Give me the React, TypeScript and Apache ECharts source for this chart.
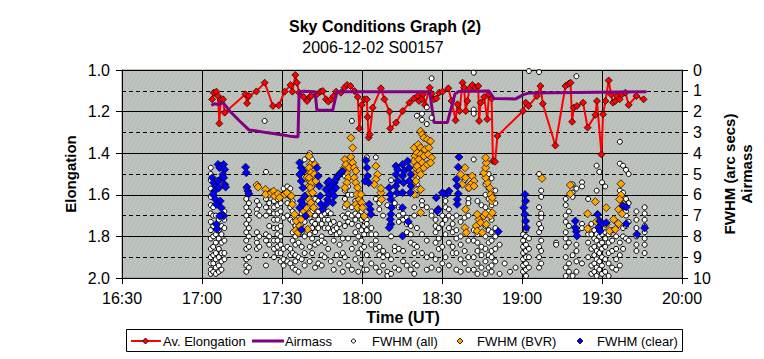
import { useEffect, useRef } from 'react';
import * as echarts from 'echarts';

const FONT = 'Arial, "Liberation Sans", Helvetica, sans-serif';

const chartTitle = 'Sky Conditions Graph (2)';
const chartSubtitle = '2006-12-02 S00157';
const xAxisTitle = 'Time (UT)';
const leftAxisTitle = 'Elongation';
const rightAxisTitle = 'FWHM (arc secs)\nAirmass';
const seriesNames = ['Av. Elongation', 'Airmass', 'FWHM (all)', 'FWHM (BVR)', 'FWHM (clear)'];

// Time axis: minutes after 00:00 UT (16:30 .. 20:00)
const timeRange = [990, 1200];
const timeStep = 30;
const elongRange = [1.0, 2.0];
const fwhmRange = [0, 10];

// [minute, average elongation]
const avElongation: [number, number][] = [
  [1023.8, 1.141], [1024.4, 1.109], [1025.4, 1.104], [1026.0, 1.125], [1026.5, 1.257], [1027.0, 1.144],
  [1027.9, 1.141], [1028.5, 1.205], [1036.3, 1.117], [1036.9, 1.16], [1037.6, 1.125], [1040.4, 1.103],
  [1043.5, 1.061], [1046.6, 1.173], [1048.8, 1.17], [1051.0, 1.104], [1053.2, 1.072], [1053.9, 1.104],
  [1055.0, 1.024], [1055.6, 1.061], [1056.4, 1.109], [1058.1, 1.13], [1059.4, 1.149], [1060.4, 1.13],
  [1060.9, 1.125], [1063.1, 1.117], [1064.4, 1.104], [1065.3, 1.101], [1066.5, 1.141], [1067.4, 1.152],
  [1068.4, 1.141], [1069.4, 1.125], [1070.3, 1.104], [1072.1, 1.109], [1073.4, 1.085], [1074.4, 1.072],
  [1075.7, 1.077], [1077.2, 1.101], [1078.4, 1.13], [1079.0, 1.281], [1079.9, 1.168], [1080.9, 1.141],
  [1081.8, 1.141], [1082.1, 1.226], [1082.5, 1.325], [1082.9, 1.31], [1084.0, 1.181], [1087.1, 1.088],
  [1088.4, 1.141], [1090.3, 1.2], [1090.6, 1.281], [1092.8, 1.253], [1095.3, 1.197], [1097.8, 1.157],
  [1099.4, 1.137], [1100.9, 1.125], [1101.4, 1.149], [1102.4, 1.141], [1102.9, 1.117], [1103.6, 1.168],
  [1105.4, 1.085], [1106.1, 1.114], [1107.0, 1.141], [1107.9, 1.137], [1108.9, 1.109], [1110.2, 1.104],
  [1112.4, 1.088], [1113.6, 1.149], [1115.1, 1.242], [1115.8, 1.165], [1116.6, 1.197], [1117.7, 1.061],
  [1118.3, 1.085], [1118.9, 1.197], [1119.5, 1.149], [1120.4, 1.088], [1121.4, 1.072], [1122.4, 1.085],
  [1123.6, 1.077], [1123.9, 1.245], [1124.5, 1.157], [1125.8, 1.13], [1127.0, 1.237], [1127.6, 1.117],
  [1128.6, 1.137], [1129.1, 1.438], [1129.9, 1.441], [1130.8, 1.317], [1140.4, 1.197], [1141.4, 1.157],
  [1142.5, 1.173], [1145.6, 1.125], [1146.9, 1.077], [1147.8, 1.162], [1152.5, 1.363], [1156.3, 1.077],
  [1157.5, 1.066], [1158.2, 1.061], [1158.8, 1.249], [1159.4, 1.181], [1160.6, 1.173], [1162.9, 1.157],
  [1164.6, 1.277], [1167.5, 1.216], [1168.1, 1.149], [1169.8, 1.406], [1170.4, 1.213], [1171.3, 1.149],
  [1172.5, 1.05], [1173.4, 1.117], [1174.1, 1.157], [1175.0, 1.149], [1175.6, 1.125], [1176.6, 1.141],
  [1177.5, 1.117], [1178.8, 1.109], [1180.0, 1.168], [1182.9, 1.125], [1185.6, 1.141],
];

// [minute, airmass]
const airmass: [number, number][] = [
  [1023.5, 1.7], [1024.8, 1.62], [1026.3, 1.66], [1027.9, 1.57], [1030.4, 1.97], [1034.1, 2.45],
  [1037.6, 2.88], [1040.4, 2.93], [1044.2, 3.01], [1049.1, 3.1], [1052.9, 3.18], [1056.0, 3.22],
  [1056.4, 1.1], [1057.9, 1.02], [1062.4, 1.04], [1063.1, 1.94], [1069.0, 1.94], [1070.6, 1.04],
  [1105.4, 1.04], [1107.0, 2.53], [1112.0, 2.53], [1114.9, 1.14], [1116.4, 1.03], [1127.6, 1.01],
  [1129.5, 1.37], [1137.6, 1.39], [1140.8, 1.17], [1142.9, 1.1], [1186.7, 1.05],
];

// FWHM (all): [minute, FWHM values at that time]
const fwhmAllColumns: [number, number[]][] = [
  [1023.3, [4.7, 5.0, 5.3, 5.7, 6.1, 6.5, 6.9, 7.3, 7.7, 8.1, 8.6, 9.0, 9.3, 9.6, 9.8]],
  [1024.2, [6.6, 7.0, 7.5, 8.0, 8.5, 8.9, 9.3, 9.7]],
  [1025.2, [7.0, 7.9, 8.3, 8.8, 9.1, 9.5, 9.8]],
  [1026.3, [7.2, 7.7, 8.1, 8.6, 9.0, 9.4, 9.7]],
  [1027.3, [7.5, 7.9, 8.3, 8.8, 9.2, 9.6]],
  [1028.4, [6.8, 7.2, 7.6, 8.2, 8.8, 9.1]],
  [1036.6, [5.7, 6.2, 6.6, 7.0, 7.4, 7.8, 8.2, 8.6, 9.1, 9.4, 9.7]],
  [1037.6, [6.4, 6.8, 7.2, 7.6, 8.0, 8.5, 9.0, 9.5]],
  [1040.6, [6.3, 6.7, 6.9, 7.8, 8.1, 8.3, 8.6]],
  [1041.5, [6.5, 7.0, 8.0, 8.5]],
  [1043.5, [2.45]],
  [1044.0, [4.9, 6.2, 6.6, 7.0, 7.9, 8.2, 8.9, 9.4]],
  [1045.2, [6.0, 6.4, 6.8, 7.5, 8.0, 8.4]],
  [1047.0, [5.9, 6.3, 6.6, 6.9, 7.2, 7.6, 8.2, 8.6, 9.0]],
  [1048.3, [6.2, 6.5, 6.9, 7.2, 7.6, 7.9, 8.2, 8.5, 8.8]],
  [1049.5, [6.0, 6.4, 6.8, 7.5, 8.0, 8.4, 8.8, 9.2]],
  [1050.6, [5.7, 7.1, 8.6, 9.1, 9.4]],
  [1052.0, [5.6, 6.0, 6.4, 7.0, 8.5, 9.2]],
  [1053.1, [5.7, 6.1, 6.6, 7.2, 8.6, 8.9, 9.3]],
  [1054.0, [6.3, 6.8, 7.3, 7.8, 8.2, 8.8, 9.5]],
  [1055.0, [7.5, 8.0, 8.4, 8.9, 9.2, 9.6]],
  [1056.2, [7.9, 8.3, 9.0, 9.7]],
  [1057.4, [6.5, 6.9, 7.4, 7.8, 8.5, 9.1]],
  [1058.5, [4.3, 6.9, 7.3, 8.0, 8.8, 9.4]],
  [1060.4, [4.0, 6.0, 6.5, 7.1, 7.9, 8.5, 9.2]],
  [1061.3, [4.3, 5.6, 6.8, 7.3, 7.6, 8.1, 8.8]],
  [1062.4, [6.2, 7.0, 7.4, 7.8, 8.4, 9.5]],
  [1063.6, [6.3, 6.8, 7.2, 7.6, 8.3, 9.3]],
  [1064.9, [7.0, 7.4, 8.0, 8.2, 8.9, 9.4]],
  [1066.0, [6.9, 7.2, 7.6, 8.3, 9.0]],
  [1067.3, [6.8, 7.2, 7.6, 8.6]],
  [1068.3, [6.9, 7.4, 7.8, 9.2]],
  [1069.4, [7.3, 7.7, 8.2, 9.6]],
  [1070.5, [7.6, 7.9, 8.9]],
  [1071.6, [7.4, 7.8, 8.4, 9.3]],
  [1072.8, [7.0, 8.1, 8.8, 9.7]],
  [1073.6, [4.3, 5.1, 5.8, 6.2, 6.6, 7.1, 7.5, 9.0]],
  [1074.8, [5.6, 6.0, 6.9, 7.3, 8.1, 9.4]],
  [1076.2, [2.45, 6.0, 6.6, 7.0, 7.4, 8.6, 9.6]],
  [1077.5, [6.3, 6.9, 7.2, 7.8, 8.3, 9.1]],
  [1078.6, [6.5, 7.0, 7.5, 8.0, 8.8, 9.7]],
  [1079.8, [6.8, 7.2, 7.7, 8.2, 8.6, 9.3]],
  [1080.8, [7.1, 7.5, 7.9, 8.5, 9.6]],
  [1081.8, [4.2, 7.2, 7.4, 7.7, 8.9, 9.6]],
  [1083.5, [7.6, 7.9, 8.4, 9.3]],
  [1085.2, [4.2, 6.2, 7.9, 8.2, 8.6, 9.5]],
  [1086.5, [6.4, 6.7, 8.5, 8.9, 9.7]],
  [1087.9, [7.0, 8.7, 9.0, 9.4]],
  [1089.5, [6.5, 8.9, 9.7, 9.9]],
  [1090.9, [5.3, 8.0, 9.1, 9.8]],
  [1092.3, [6.0, 6.4, 8.5, 8.7, 9.5]],
  [1093.8, [6.6, 7.0, 7.3, 8.6, 9.6]],
  [1095.4, [6.9, 7.2, 8.7, 9.2]],
  [1096.8, [7.1, 7.4, 7.8, 9.4]],
  [1098.3, [7.5, 7.9, 8.3, 9.6]],
  [1099.6, [6.6, 7.0, 8.4, 8.8, 9.3, 9.8]],
  [1100.6, [2.2, 5.2, 5.5, 6.0, 7.6, 8.5, 9.4]],
  [1102.5, [2.1, 2.4, 6.3, 6.5, 7.9, 8.8]],
  [1104.3, [1.8, 2.6, 6.6, 8.2, 9.0, 9.6]],
  [1106.1, [0.4, 2.3, 6.8, 7.0, 8.9, 9.5]],
  [1107.6, [7.2, 7.5, 7.8, 8.3, 9.1]],
  [1108.8, [7.6, 8.1, 8.6, 9.6]],
  [1110.1, [7.0, 7.4, 8.5, 9.3]],
  [1111.3, [6.3, 6.6, 7.2, 7.9, 9.0]],
  [1112.6, [6.7, 7.0, 7.6, 8.3, 9.4]],
  [1114.0, [7.1, 7.4, 7.8, 8.5, 8.8]],
  [1115.4, [7.0, 7.7, 8.1, 8.8, 9.6]],
  [1117.0, [7.3, 8.0, 8.4, 9.1, 9.7]],
  [1118.5, [5.3, 7.1, 8.7, 9.3]],
  [1119.9, [5.7, 6.2, 6.4, 7.0, 8.2, 9.0, 9.6]],
  [1121.9, [0.13, 1.9, 2.1, 4.3, 7.7, 8.2, 9.0, 9.6]],
  [1123.3, [6.3, 7.9, 8.3, 8.7, 9.3, 9.8]],
  [1124.8, [6.5, 8.5, 8.9, 9.5]],
  [1126.3, [5.5, 6.0, 6.6, 7.5, 8.0, 8.6, 9.2, 9.8]],
  [1127.5, [5.0, 5.7, 6.2, 6.8, 7.7, 8.3, 8.9, 9.5]],
  [1128.6, [5.2, 5.8, 6.5, 7.2, 7.8, 8.2, 8.7, 9.0, 9.4, 9.7]],
  [1130.0, [5.8, 6.4, 7.6, 8.0, 8.6, 9.2]],
  [1131.6, [8.4, 9.8]],
  [1133.5, [9.3]],
  [1135.5, [9.7]],
  [1137.6, [9.5]],
  [1140.4, [7.9, 8.2, 8.5, 8.8, 9.1, 9.4, 9.7]],
  [1141.5, [7.7, 8.0, 8.4, 8.7, 9.0, 9.3, 9.6, 9.9]],
  [1142.6, [0.05, 8.1, 8.6, 9.0, 9.5]],
  [1146.4, [0.1, 5.0, 6.6, 7.4, 7.8, 8.5, 9.0, 9.5]],
  [1147.2, [5.8, 6.1, 6.9, 7.1, 7.6, 8.2, 8.7, 9.3]],
  [1152.8, [8.3, 8.4]],
  [1156.4, [6.2, 6.5, 7.0, 7.3, 7.8, 8.1, 8.5, 9.0, 9.5, 9.9]],
  [1157.6, [6.8, 7.5, 8.3, 9.3, 9.7]],
  [1159.0, [5.5, 5.9, 6.1, 8.9, 9.9]],
  [1160.4, [0.3, 5.7, 8.4, 8.7, 9.2, 9.7]],
  [1162.5, [5.4, 5.6, 7.4, 7.6, 9.3]],
  [1164.8, [6.2, 7.9, 8.3, 9.0]],
  [1166.0, [7.4, 7.9, 8.6, 9.4, 9.8]],
  [1167.1, [7.7, 8.1, 8.5, 8.9, 9.3, 9.7]],
  [1168.0, [4.6, 5.8, 7.9, 8.2, 8.7, 9.1, 9.5, 9.9]],
  [1169.0, [4.9, 8.0, 8.4, 8.8, 9.2, 9.6]],
  [1170.0, [5.4, 7.9, 8.3, 8.6, 9.0, 9.4, 9.8]],
  [1171.2, [5.6, 7.8, 8.1, 8.5, 9.1, 9.7]],
  [1172.5, [7.9, 8.3, 8.8, 9.3, 9.9]],
  [1173.8, [7.7, 8.2, 8.7, 9.5]],
  [1175.3, [7.3, 8.0, 8.6, 9.1, 9.6]],
  [1176.7, [3.45, 4.5, 5.8, 8.3, 8.9, 9.4]],
  [1177.9, [4.6, 5.9, 6.7, 7.6, 8.0, 8.6]],
  [1179.0, [4.8, 6.2, 6.8, 7.0, 7.5, 8.1]],
  [1180.0, [5.0, 6.4, 7.3, 8.2]],
  [1182.9, [6.8, 7.2, 7.6, 8.0, 8.4, 8.7]],
  [1186.0, [6.6, 6.9, 7.2, 7.5, 7.8, 8.1, 8.4, 8.8]],
];

// FWHM (BVR): [minute, FWHM]
const fwhmBVR: [number, number][] = [
  [1040.6, 5.53], [1041.0, 5.63], [1043.85, 5.74], [1043.85, 5.98], [1046.0, 5.9], [1046.85, 5.82],
  [1047.2, 6.06], [1048.5, 5.95], [1049.1, 6.14], [1051.0, 5.98], [1051.85, 5.9], [1053.5, 6.06],
  [1053.85, 6.46], [1054.7, 6.94], [1055.35, 7.26], [1055.1, 7.71], [1056.0, 7.82], [1056.6, 7.5],
  [1057.2, 7.18], [1058.1, 6.78], [1059.1, 6.62], [1059.7, 5.98], [1060.1, 5.58], [1060.35, 5.34],
  [1059.7, 4.86], [1059.35, 5.15],
  [1060.2, 4.14], [1060.6, 4.54], [1060.2, 4.7], [1060.85, 4.94], [1060.2, 5.18], [1061.1, 5.42],
  [1060.6, 5.66], [1061.5, 5.9], [1060.2, 6.22], [1060.85, 6.38], [1061.85, 6.62], [1060.2, 6.94],
  [1059.6, 7.66], [1062.35, 4.54], [1062.1, 5.02], [1062.7, 5.34],
  [1073.6, 4.3], [1073.35, 4.7], [1074.0, 4.54], [1074.35, 4.94], [1074.85, 5.18], [1074.35, 5.42],
  [1073.6, 5.66], [1075.2, 4.7], [1075.85, 3.26], [1076.5, 3.74], [1075.85, 4.18], [1076.5, 4.46],
  [1077.1, 4.7], [1077.7, 4.86], [1077.1, 5.18], [1077.7, 5.42], [1078.35, 5.66], [1078.1, 5.98],
  [1077.7, 6.46], [1078.35, 6.62], [1079.0, 6.22], [1079.6, 5.98], [1079.85, 6.38], [1080.2, 6.62],
  [1080.85, 7.02], [1074.35, 6.46],
  [1085.2, 4.62], [1085.85, 5.02], [1085.2, 5.26], [1084.6, 5.5], [1087.1, 5.9], [1087.35, 6.22],
  [1087.1, 5.69],
  [1099.6, 3.74], [1099.85, 4.14], [1099.35, 4.38], [1100.2, 4.7], [1099.6, 5.02], [1100.2, 5.34],
  [1099.0, 5.58], [1099.6, 5.98],
  [1102.0, 2.94], [1102.6, 3.1], [1103.2, 3.26], [1104.5, 3.34], [1105.7, 3.42], [1101.1, 3.58],
  [1102.0, 3.74], [1103.6, 3.82], [1105.1, 3.74], [1100.7, 3.98], [1102.0, 4.06], [1103.2, 4.14],
  [1104.85, 4.06], [1106.1, 4.22], [1101.35, 4.3], [1102.6, 4.46], [1100.7, 4.62], [1101.6, 4.86],
  [1103.2, 4.7], [1104.5, 4.54], [1105.7, 4.46], [1102.0, 5.02], [1102.0, 5.74], [1102.0, 6.86],
  [1118.6, 4.7], [1117.0, 5.02], [1118.85, 5.18], [1121.35, 5.1], [1122.0, 5.34], [1120.7, 5.5],
  [1117.6, 5.5], [1120.1, 5.66], [1122.0, 5.58], [1118.85, 6.7], [1118.6, 7.58], [1119.1, 7.82],
  [1122.85, 7.5], [1123.85, 7.18], [1123.2, 6.94], [1124.5, 7.34], [1125.7, 7.02], [1126.35, 6.91],
  [1123.2, 7.74], [1125.1, 7.82], [1126.6, 7.42], [1128.2, 7.02], [1128.85, 6.86], [1128.6, 6.3],
  [1128.2, 5.98], [1127.85, 5.66], [1127.0, 5.42], [1126.35, 5.18], [1125.7, 4.94], [1126.35, 4.7],
  [1126.6, 4.46], [1126.35, 4.22], [1128.85, 6.14],
  [1147.5, 5.21], [1158.1, 5.53], [1158.1, 5.95], [1167.5, 6.33], [1164.6, 6.91], [1164.6, 7.63],
  [1167.85, 7.29], [1171.6, 6.62], [1171.6, 7.42], [1172.85, 7.74], [1174.35, 7.18], [1175.0, 7.66],
  [1176.2, 7.39], [1177.1, 5.47], [1177.1, 6.01], [1176.6, 6.22], [1178.1, 6.46], [1176.2, 6.7],
  [1177.5, 6.91],
];

// FWHM (clear): [minute, FWHM]
const fwhmClear: [number, number][] = [
  [1023.85, 5.18], [1024.35, 5.42], [1024.7, 5.82], [1024.1, 5.98], [1025.1, 5.58], [1026.0, 4.54],
  [1026.6, 4.7], [1027.2, 4.62], [1028.1, 4.54], [1028.5, 4.78], [1027.85, 5.02], [1026.85, 5.26],
  [1026.0, 5.34], [1025.1, 6.22], [1025.35, 6.46], [1026.85, 6.3], [1027.2, 6.62], [1027.6, 6.94],
  [1028.1, 7.02], [1026.6, 7.02], [1025.35, 7.42], [1025.6, 7.66], [1026.35, 5.66], [1028.1, 5.18],
  [1028.5, 5.5], [1028.85, 5.63],
  [1036.35, 4.67], [1036.6, 4.94], [1036.85, 5.63], [1037.2, 5.82], [1037.6, 5.95],
  [1056.6, 4.46], [1057.2, 4.7], [1057.85, 4.86], [1056.6, 5.02], [1057.2, 5.34], [1057.85, 5.66],
  [1058.5, 6.06], [1057.2, 6.3], [1056.6, 6.62], [1057.85, 6.46], [1058.85, 7.02], [1057.3, 7.68],
  [1063.1, 4.7], [1063.6, 5.1], [1064.0, 5.58], [1064.35, 6.06], [1066.5, 5.74], [1067.1, 5.42],
  [1067.7, 5.34], [1068.35, 5.58], [1067.7, 5.98], [1067.1, 6.22], [1066.5, 6.46], [1065.2, 6.7],
  [1064.6, 6.46], [1069.0, 5.82], [1069.6, 5.42], [1070.2, 5.26], [1070.85, 5.1], [1071.5, 5.02],
  [1072.1, 4.94], [1072.7, 4.86], [1070.2, 5.66], [1069.6, 6.06], [1069.0, 6.38],
  [1081.5, 4.35], [1081.85, 4.7], [1082.1, 5.1], [1082.5, 5.42], [1081.1, 5.34], [1082.7, 6.46],
  [1083.1, 6.7], [1083.35, 6.94],
  [1090.2, 5.66], [1090.6, 5.98], [1090.85, 6.22], [1091.1, 6.62], [1090.85, 6.94], [1090.6, 7.18],
  [1090.85, 7.42], [1090.2, 7.58],
  [1092.7, 4.62], [1093.35, 4.78], [1092.7, 5.02], [1093.35, 5.34], [1092.7, 5.58], [1093.1, 5.9],
  [1095.2, 4.54], [1095.85, 4.86], [1095.2, 5.1], [1095.6, 5.42], [1095.2, 5.9], [1097.1, 4.38],
  [1097.7, 4.7], [1098.35, 5.02], [1097.7, 5.34], [1098.35, 5.58], [1098.1, 5.9], [1095.2, 6.62],
  [1097.35, 7.29], [1095.2, 7.98],
  [1116.35, 4.18], [1116.1, 4.67], [1115.35, 5.26], [1115.7, 5.58], [1116.1, 5.95], [1115.7, 6.22],
  [1115.7, 6.46], [1112.6, 5.82], [1112.0, 5.95], [1110.7, 5.95], [1110.1, 5.9], [1107.85, 6.14],
  [1108.6, 6.7], [1108.2, 6.78], [1131.1, 7.77],
  [1141.1, 5.98], [1141.35, 6.3], [1140.7, 6.62], [1141.1, 6.94], [1141.35, 7.26], [1141.6, 7.58],
  [1160.0, 7.26], [1160.0, 7.58], [1160.35, 7.77], [1160.6, 7.98], [1168.35, 6.94], [1169.1, 7.26],
  [1168.7, 7.58], [1169.35, 7.74], [1170.0, 7.39], [1171.6, 7.34], [1177.85, 6.54], [1179.1, 6.59],
  [1179.1, 7.39], [1183.1, 7.9], [1186.0, 7.6],
];

const COLORS = {
  elong: '#ff0000',
  airmass: '#800080',
  bvr: '#ffa500',
  clear: '#0000ff',
};

function fmtTime(v: number) {
  const h = Math.floor(v / 60);
  const m = Math.round(v - h * 60);
  return `${h}:${String(m).padStart(2, '0')}`;
}

function makePattern() {
  const c = document.createElement('canvas');
  c.width = 8;
  c.height = 8;
  const ctx = c.getContext('2d')!;
  ctx.fillStyle = '#c0c0c0';
  ctx.fillRect(0, 0, 8, 8);
  ctx.fillStyle = '#92c892';
  const dots = [[0, 0], [4, 1], [2, 3], [6, 4], [1, 6], [5, 7]];
  dots.forEach(([x, y]) => ctx.fillRect(x, y, 1, 1));
  return c;
}

export default function App() {
  const ref = useRef<HTMLDivElement>(null);

  useEffect(() => {
    if (!ref.current) return;
    const chart = echarts.init(ref.current, null, { renderer: 'svg' });
    const fwhmAll = fwhmAllColumns.flatMap(([t, vs]) => vs.map((v) => [t, v]));
    const txt = (x: number, y: number, text: string, font: string, align = 'left', extra: any = {}) => ({
      type: 'text',
      x,
      y,
      silent: true,
      ...extra,
      style: { text, font, fill: '#000', textAlign: align, textVerticalAlign: 'middle' },
    });
    const diamond = (cx: number, cy: number, r: number, fill: string) => ({
      type: 'polygon',
      silent: true,
      shape: { points: [[cx, cy - r], [cx + r, cy], [cx, cy + r], [cx - r, cy]] },
      style: { fill, stroke: '#000', lineWidth: 0.8 },
    });
    const LY = 341;
    const legendFont = `13px ${FONT}`;

    chart.setOption({
      animation: false,
      backgroundColor: '#ffffff',
      grid: {
        left: 122,
        right: 82,
        top: 70,
        bottom: 81,
        show: true,
        backgroundColor: { image: makePattern(), repeat: 'repeat' },
        borderColor: '#8a8a8a',
        borderWidth: 1,
      },
      xAxis: {
        type: 'value',
        min: timeRange[0],
        max: timeRange[1],
        interval: timeStep,
        axisLine: { show: true, onZero: false, lineStyle: { color: '#000', width: 1 } },
        axisTick: { show: true, length: 6, lineStyle: { color: '#000' } },
        axisLabel: { color: '#000', fontSize: 16, fontFamily: FONT, margin: 12, formatter: fmtTime },
        splitLine: { show: true, lineStyle: { color: '#000', width: 1 } },
      },
      yAxis: [
        {
          type: 'value',
          min: elongRange[0],
          max: elongRange[1],
          interval: 0.2,
          inverse: true,
          position: 'left',
          axisLine: { show: true, onZero: false, lineStyle: { color: '#000' } },
          axisTick: { show: true, length: 6, lineStyle: { color: '#000' } },
          axisLabel: {
            color: '#000',
            fontSize: 16,
            fontFamily: FONT,
            margin: 12,
            formatter: (v: number) => v.toFixed(1),
          },
          splitLine: { show: true, lineStyle: { color: '#000', width: 1 } },
          minorTick: { show: false, splitNumber: 2 },
          minorSplitLine: { show: true, lineStyle: { color: '#000', width: 1, type: [4, 3] } },
        },
        {
          type: 'value',
          min: fwhmRange[0],
          max: fwhmRange[1],
          interval: 1,
          inverse: true,
          position: 'right',
          axisLine: { show: true, onZero: false, lineStyle: { color: '#000' } },
          axisTick: { show: true, length: 6, lineStyle: { color: '#000' } },
          axisLabel: { color: '#000', fontSize: 16, fontFamily: FONT, margin: 11 },
          splitLine: { show: false },
        },
      ],
      series: [
        {
          name: seriesNames[0],
          type: 'line',
          yAxisIndex: 0,
          data: avElongation,
          symbol: 'diamond',
          symbolSize: 7,
          showAllSymbol: true,
          lineStyle: { color: COLORS.elong, width: 2 },
          itemStyle: { color: COLORS.elong, borderColor: '#000', borderWidth: 0.7 },
          z: 2,
        },
        {
          name: seriesNames[1],
          type: 'line',
          yAxisIndex: 1,
          data: airmass,
          showSymbol: false,
          symbol: 'none',
          lineStyle: { color: COLORS.airmass, width: 3 },
          itemStyle: { color: COLORS.airmass },
          z: 3,
        },
        {
          name: seriesNames[2],
          type: 'scatter',
          yAxisIndex: 1,
          data: fwhmAll,
          symbol: 'circle',
          symbolSize: 5,
          itemStyle: { color: '#ffffff', borderColor: '#000', borderWidth: 1, opacity: 1 },
          z: 4,
        },
        {
          name: seriesNames[3],
          type: 'scatter',
          yAxisIndex: 1,
          data: fwhmBVR,
          symbol: 'diamond',
          symbolSize: 8,
          itemStyle: { color: COLORS.bvr, borderColor: '#000', borderWidth: 0.7, opacity: 1 },
          z: 5,
        },
        {
          name: seriesNames[4],
          type: 'scatter',
          yAxisIndex: 1,
          data: fwhmClear,
          symbol: 'diamond',
          symbolSize: 8,
          itemStyle: { color: COLORS.clear, borderColor: '#000', borderWidth: 0.7, opacity: 1 },
          z: 6,
        },
      ],
      graphic: [
        txt(385, 26, chartTitle, `bold 16px ${FONT}`, 'center'),
        txt(373, 47, chartSubtitle, `16px ${FONT}`, 'center'),
        txt(403, 317, xAxisTitle, `bold 16px ${FONT}`, 'center'),
        txt(70, 174, leftAxisTitle, `bold 15px ${FONT}`, 'center', { rotation: Math.PI / 2 }),
        {
          type: 'text',
          x: 738,
          y: 174,
          rotation: Math.PI / 2,
          silent: true,
          style: {
            text: rightAxisTitle,
            font: `bold 15px ${FONT}`,
            fill: '#000',
            textAlign: 'center',
            textVerticalAlign: 'middle',
            lineHeight: 17,
          },
        },
        {
          type: 'rect',
          silent: true,
          shape: { x: 126.5, y: 329.5, width: 556, height: 22 },
          style: { fill: '#fff', stroke: '#000', lineWidth: 1 },
        },
        {
          type: 'line',
          silent: true,
          shape: { x1: 131, y1: LY, x2: 161, y2: LY },
          style: { stroke: COLORS.elong, lineWidth: 2 },
        },
        diamond(145.5, LY, 3, COLORS.elong),
        txt(163, LY, seriesNames[0], legendFont),
        {
          type: 'line',
          silent: true,
          shape: { x1: 252, y1: LY, x2: 284, y2: LY },
          style: { stroke: COLORS.airmass, lineWidth: 3 },
        },
        txt(285, LY, seriesNames[1], legendFont),
        {
          type: 'circle',
          silent: true,
          shape: { cx: 353.5, cy: LY, r: 2 },
          style: { fill: '#fff', stroke: '#000', lineWidth: 1 },
        },
        txt(372, LY, seriesNames[2], legendFont),
        diamond(460, LY, 3, COLORS.bvr),
        txt(477, LY, seriesNames[3], legendFont),
        diamond(580, LY, 3, COLORS.clear),
        txt(597, LY, seriesNames[4], legendFont),
      ],
    });
    return () => chart.dispose();
  }, []);

  return (
    <div
      ref={ref}
      style={{ position: 'fixed', left: 0, top: 0, width: 764, height: 359, background: '#fff' }}
    />
  );
}
